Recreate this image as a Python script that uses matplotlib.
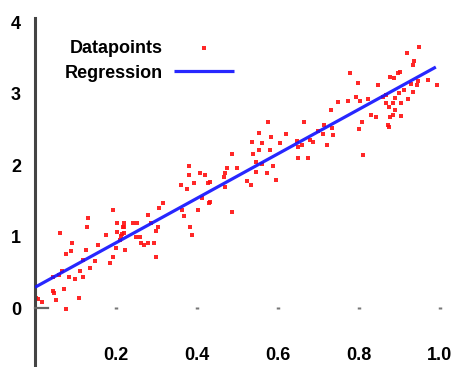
import matplotlib
matplotlib.use("Agg")
import matplotlib.pyplot as plt

# Data points
x_points = [0.193, 0.132, 0.128, 0.203, 0.218, 0.062, 0.175, 0.203, 0.212, 0.091,
            0.156, 0.200, 0.222, 0.089, 0.126, 0.076, 0.148, 0.193, 0.185, 0.136,
            0.111, 0.066, 0.060, 0.085, 0.099, 0.119, 0.044, 0.045, 0.072, 0.047,
            0.109, 0.052, 0.003, 0.017, 0.008, 0.077, 0.220, 0.210, 0.119,
            0.381, 0.407, 0.381, 0.420, 0.428, 0.360, 0.393, 0.375, 0.317, 0.430,
            0.412, 0.307, 0.364, 0.403, 0.280, 0.369, 0.220, 0.243, 0.251, 0.286,
            0.304, 0.383, 0.220, 0.299, 0.216, 0.249, 0.259, 0.387, 0.263, 0.280,
            0.270, 0.295, 0.300,
            0.576, 0.665, 0.554, 0.584, 0.620, 0.535, 0.560, 0.605, 0.648, 0.650,
            0.554, 0.580, 0.538, 0.486, 0.650, 0.675, 0.547, 0.560, 0.587, 0.473,
            0.498, 0.469, 0.547, 0.572, 0.467, 0.523, 0.595, 0.432, 0.469, 0.533,
            0.432, 0.486,
            0.778, 0.877, 0.896, 0.887, 0.798, 0.848, 0.900, 0.794, 0.774, 0.749,
            0.823, 0.802, 0.868, 0.889, 0.875, 0.859, 0.730, 0.889, 0.831, 0.842,
            0.877, 0.807, 0.714, 0.733, 0.872, 0.801, 0.700, 0.712, 0.737, 0.679,
            0.686, 0.659, 0.720, 0.811,
            0.949, 0.919, 0.936, 0.934, 0.901, 0.971, 0.992, 0.946, 0.928, 0.944,
            0.911, 0.933, 0.867, 0.922, 0.885, 0.905, 0.885, 0.905, 0.875]
y_points = [1.371, 1.255, 1.133, 1.193, 1.137, 1.045, 1.021, 1.067, 1.007, 0.913,
            0.881, 0.835, 0.811, 0.801, 0.811, 0.755, 0.662, 0.717, 0.634, 0.564,
            0.522, 0.522, 0.462, 0.429, 0.401, 0.438, 0.429, 0.242, 0.262, 0.214,
            0.136, 0.112, 0.144, 0.088, 0.122, -0.018, 1.045, 0.951, 0.671,
            1.986, 1.892, 1.860, 1.860, 1.744, 1.720, 1.744, 1.660, 1.473, 1.473,
            1.534, 1.394, 1.371, 1.371, 1.301, 1.287, 1.193, 1.193, 1.193, 1.185,
            1.129, 1.129, 1.129, 1.077, 1.031, 0.997, 0.997, 1.021, 0.905, 0.913,
            0.881, 0.905, 0.717,
            2.606, 2.606, 2.452, 2.387, 2.429, 2.326, 2.303, 2.303, 2.340, 2.256,
            2.210, 2.210, 2.154, 2.154, 2.094, 2.094, 2.046, 2.014, 1.986, 1.954,
            1.954, 1.884, 1.906, 1.884, 1.828, 1.780, 1.790, 1.766, 1.688, 1.720,
            1.487, 1.347,
            3.291, 3.235, 3.291, 3.213, 3.143, 3.119, 3.003, 2.947, 2.899, 2.885,
            2.919, 2.899, 2.871, 2.933, 2.815, 2.955, 2.769, 2.769, 2.699, 2.676,
            2.676, 2.606, 2.559, 2.513, 2.559, 2.499, 2.480, 2.434, 2.420, 2.350,
            2.326, 2.280, 2.280, 2.140,
            3.654, 3.571, 3.459, 3.399, 3.305, 3.189, 3.119, 3.179, 3.133, 3.119,
            3.049, 3.025, 2.979, 2.919, 2.863, 2.863, 2.699, 2.685, 2.536]

# Regression line end points
reg_x = [0.0, 0.99]
reg_y = [0.29, 3.37]

x_ticks = [0.2, 0.4, 0.6, 0.8, 1.0]
x_tick_labels = ["0.2", "0.4", "0.6", "0.8", "1.0"]
y_ticks = [0, 1, 2, 3, 4]
y_tick_labels = ["0", "1", "2", "3", "4"]

W, H = 456, 367
fig = plt.figure(figsize=(W / 100, H / 100), dpi=100)
ax = fig.add_axes([35 / W, 0, 413 / W, 349 / H])
ax.set_xlim(0, 1.02)
ax.set_ylim(-0.825, 4.056)

font = dict(family="Liberation Sans", weight="bold", size=13)

ax.scatter(x_points, y_points, marker="s", s=9, color="#ff1010", linewidths=0,
           alpha=0.9, label="Datapoints", zorder=2)
ax.plot(reg_x, reg_y, color="#1414ff", lw=2.3, alpha=0.92, label="Regression",
        zorder=3, solid_capstyle="butt")

for s in ["top", "right"]:
    ax.spines[s].set_visible(False)
ax.spines["left"].set_color("#444444")
ax.spines["left"].set_linewidth(2.2)
ax.spines["bottom"].set_position(("data", 0))
ax.spines["bottom"].set_bounds(0, 0.032)
ax.spines["bottom"].set_color("#666666")
ax.spines["bottom"].set_linewidth(1.6)

ax.set_xticks(x_ticks)
ax.set_xticklabels(x_tick_labels, **font)
ax.set_yticks(y_ticks)
ax.set_yticklabels(y_tick_labels, **font)
ax.tick_params(axis="x", length=2, width=2.5, color="#777777", pad=27,
               direction="inout")
ax.tick_params(axis="y", length=0, pad=10)

leg = ax.legend(loc="upper left", bbox_to_anchor=(56 / W, 1 - 31 / H),
                bbox_transform=fig.transFigure, frameon=False,
                markerfirst=False, handlelength=3.3, handletextpad=0.6,
                borderpad=0, labelspacing=0.42, markerscale=1.0,
                prop=dict(family="Liberation Sans", weight="bold", size=13))

fig.savefig("out.png", dpi=100, facecolor="white")
